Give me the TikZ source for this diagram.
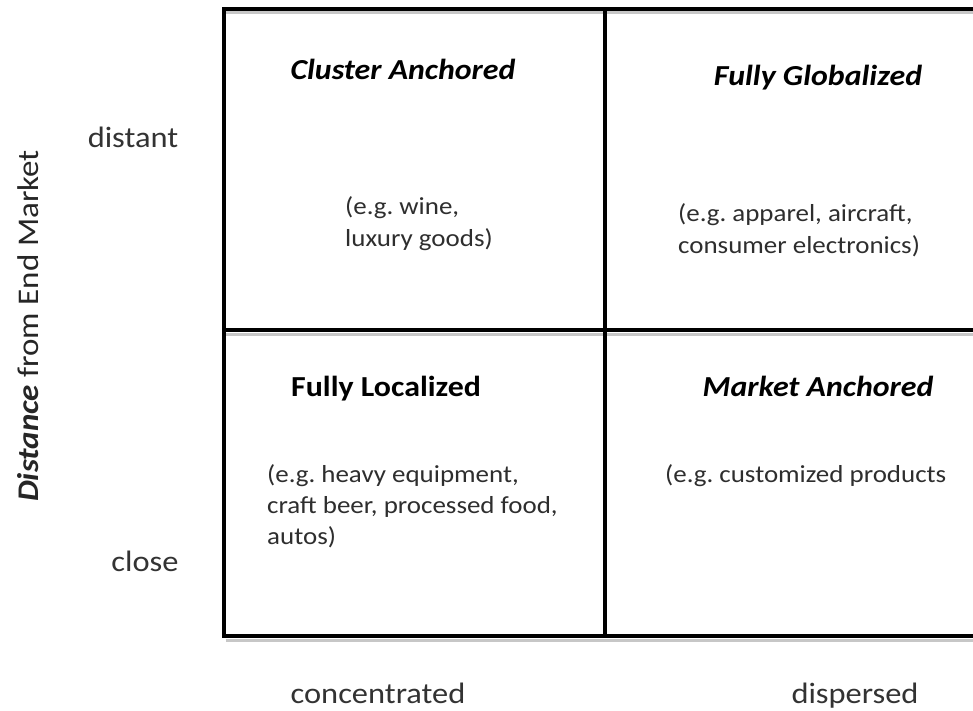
\documentclass[tikz,border=0pt]{standalone}
\usepackage{fontspec}
\setmainfont{Carlito}[FakeStretch=1.1]
\begin{document}
\frenchspacing
\begin{tikzpicture}[x=1pt,y=-1pt,
  grid/.style={line width=3.6pt, line cap=rect},
  shade/.style={line width=3pt, black!22},
  head/.style={font=\fontsize{29}{34}\selectfont\bfseries\itshape, text=black, inner sep=0pt, anchor=base},
  headup/.style={font=\fontsize{29}{34}\selectfont\bfseries, text=black, inner sep=0pt, anchor=base},
  body/.style={font=\fontsize{24.5}{32}\selectfont, text=black!82, inner sep=0pt, align=left},
  axis/.style={font=\fontsize{29.5}{34}\selectfont, text=black!80, inner sep=0pt}]
\useasboundingbox (0,0) rectangle (973,710);
\fill[white] (0,0) rectangle (973,710);
% grid corners
\coordinate (tl) at (224,9);
\coordinate (tm) at (605,9);
\coordinate (tr) at (975,9);
\coordinate (ml) at (224,330);
\coordinate (mr) at (975,330);
\coordinate (bl) at (224,636);
\coordinate (bm) at (605,636);
\coordinate (br) at (975,636);
% soft shadow under the horizontal rules
\draw[shade] ([shift={(2,4)}]bl) -- ([shift={(0,4)}]br);
\draw[shade] ([shift={(2,4)}]ml) -- ([shift={(0,4)}]mr);
\draw[shade] ([shift={(2,3)}]tl) -- ([shift={(0,3)}]tr);
% grid
\draw[grid] (tr) -- (tl) -- (bl) -- (br);
\draw[grid] (tm) -- (bm);
\draw[grid] (ml) -- (mr);
% headings
\node[head] (ca) at (403,79) {Cluster Anchored};
\node[head] (fg) at (818,85) {Fully Globalized};
\node[headup] (fl) at (386,396) {Fully Localized};
\node[head] (ma) at (818,396) {Market Anchored};
% examples
\node[body, anchor=west] (e1) at (345,224) {(e.g. wine,\\luxury goods)};
\node[body, anchor=west] (e2) at (678,230) {(e.g. apparel, aircraft,\\consumer electronics)};
\node[body, anchor=west, font=\fontsize{24.5}{31}\selectfont] (e3) at (267,506) {(e.g. heavy equipment,\\craft beer, processed food,\\autos)};
\node[body, anchor=west] (e4) at (665,476) {(e.g. customized products};
% axes
\node[axis] (dist) at (133,137) {distant};
\node[axis] (clos) at (145,561) {close};
\node[axis, anchor=base] (conc) at (378,703) {concentrated};
\node[axis, anchor=base] (disp) at (855,703) {dispersed};
\node[font=\fontsize{30}{34}\selectfont, text=black!85, inner sep=0pt, rotate=90] (ylab) at (28,326) {\textbf{\textit{Distance}} from End Market};
\end{tikzpicture}
\end{document}
